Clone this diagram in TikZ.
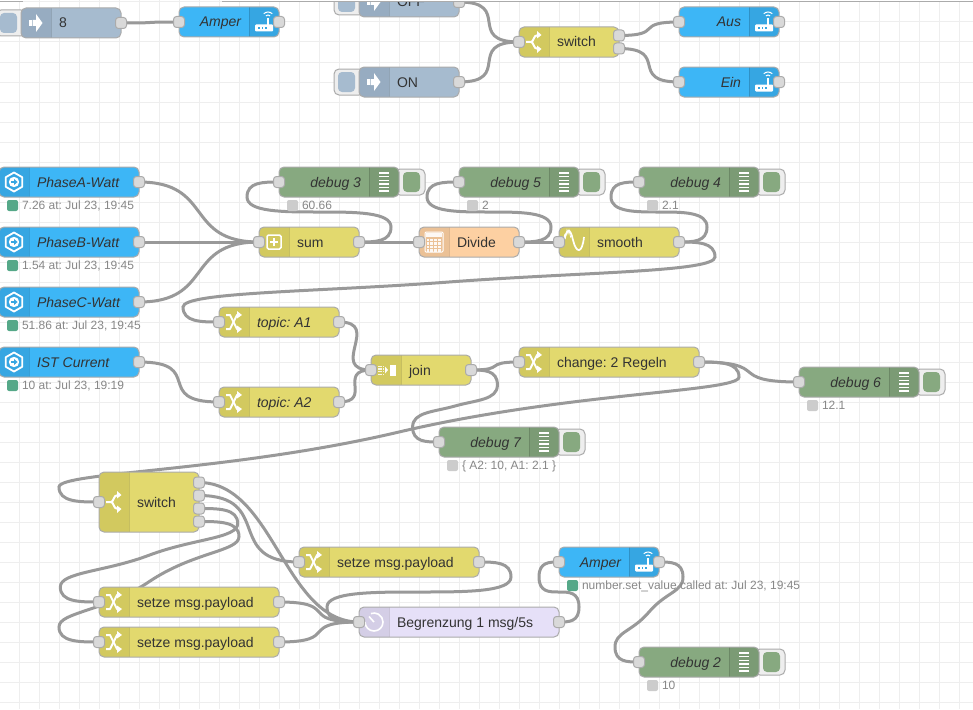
\documentclass[tikz,border=0pt]{standalone}
\usepackage{fontspec}
\setmainfont{Liberation Sans}
\frenchspacing
\pgfdeclarelayer{gridlayer}
\pgfdeclarelayer{wirelayer}
\pgfsetlayers{gridlayer,wirelayer,main}
\definecolor{cblue}{HTML}{3DB6F6}\definecolor{bblue}{HTML}{36A6E2}
\definecolor{cinj}{HTML}{A6BBCF}\definecolor{binj}{HTML}{97ACC1}
\definecolor{cyel}{HTML}{E2D96E}\definecolor{byel}{HTML}{D2C95F}
\definecolor{cdbg}{HTML}{87A980}\definecolor{bdbg}{HTML}{7B9B75}
\definecolor{clav}{HTML}{E6E0F8}\definecolor{blav}{HTML}{D4CEE6}
\definecolor{cora}{HTML}{FDD0A2}\definecolor{bora}{HTML}{EBC196}
\definecolor{wirecol}{HTML}{999999}
\definecolor{edgecol}{HTML}{ABABAB}
\definecolor{gridcol}{HTML}{EEEEEE}
\definecolor{txtcol}{HTML}{333333}
\definecolor{stattxt}{HTML}{888888}
\definecolor{statgreen}{HTML}{55A888}
\definecolor{statgray}{HTML}{CCCCCC}
\definecolor{portcol}{HTML}{D9D9D9}
\tikzset{
  nrbody/.style={draw=none,rounded corners=5pt,inner sep=0pt,outer sep=0pt,line width=1pt},
  nredge/.style={draw=edgecol,rounded corners=5pt,line width=1pt},
  nrsep/.style={draw=black,draw opacity=.12,line width=1pt},
  nrport/.style={draw=edgecol,fill=portcol,rounded corners=3pt,minimum size=11pt,inner sep=0pt,outer sep=0pt,line width=1pt},
  nrlabel/.style={inner sep=0pt,outer sep=0pt,text=txtcol,font=\fontsize{14}{14}\selectfont},
  nrital/.style={nrlabel,font=\fontsize{14}{14}\selectfont\itshape},
  wirepath/.style={draw=wirecol,line width=3pt},
  btnouter/.style={draw=edgecol,fill=gridcol,rounded corners=5pt,inner sep=0pt,outer sep=0pt,line width=1pt,minimum height=26pt},
  btninner/.style={rounded corners=4pt,inner sep=0pt,outer sep=0pt,minimum width=17pt,minimum height=20pt},
  statdot/.style={rounded corners=2pt,minimum size=11pt,inner sep=0pt,outer sep=0pt},
  stattext/.style={inner sep=0pt,outer sep=0pt,text=stattxt,font=\fontsize{12}{12}\selectfont},
  icn/.style={draw=white,line width=2pt},
}
\newdimen\wtmp
\newcommand\getport[3]{%
  \pgfextractx{\wtmp}{\pgfpointanchor{#1}{center}}\pgfmathsetmacro#2{\wtmp}%
  \pgfextracty{\wtmp}{\pgfpointanchor{#1}{center}}\pgfmathsetmacro#3{-\wtmp}%
}
% Node-RED link geometry
\newcommand\wire[2]{%
  \getport{#1}{\ox}{\oy}\getport{#2}{\ex}{\ey}%
  \pgfmathsetmacro\ddx{\ex-\ox}\pgfmathsetmacro\ddy{\ey-\oy}%
  \ifdim\ddx pt>0.5pt
    \pgfmathsetmacro\del{veclen(\ddx/10,\ddy/10)*10}%
    \pgfmathsetmacro\sca{\del<100?0.75*\del/100:0.75}%
    \pgfmathsetmacro\caX{\ox+100*\sca}\pgfmathsetmacro\cbX{\ex-100*\sca}%
    \draw[wirepath] (#1.center) .. controls (\caX,\oy) and (\cbX,\ey) .. (#2.center);%
  \else
    \pgfmathsetmacro\sca{0.4-0.2*max(0,(100-min(abs(\ddx),abs(\ddy)))/100)}%
    \pgfmathsetmacro\midX{\ex-\ddx/2}\pgfmathsetmacro\midY{\ey-\ddy/2}%
    \pgfmathsetmacro\yone{(\ey+\midY)/2}%
    \pgfmathsetmacro\topX{\ox+100*\sca}\pgfmathsetmacro\botX{\ex-100*\sca}%
    \ifdim\ddy pt>0pt
      \pgfmathsetmacro\topY{min(\yone-\ddy/2,\oy+15)}%
      \pgfmathsetmacro\botY{max(\yone,\ey-15)}%
      \pgfmathsetmacro\cbY{max(\oy,\topY-15)}%
      \pgfmathsetmacro\ccY{min(\midY,\topY+15)}%
      \pgfmathsetmacro\cdY{max(\midY,\botY-15)}%
    \else
      \pgfmathsetmacro\topY{max(\yone-\ddy/2,\oy-15)}%
      \pgfmathsetmacro\botY{min(\yone,\ey+15)}%
      \pgfmathsetmacro\cbY{min(\oy,\topY+15)}%
      \pgfmathsetmacro\ccY{max(\midY,\topY-15)}%
      \pgfmathsetmacro\cdY{min(\midY,\botY+15)}%
    \fi
    \pgfmathsetmacro\xa{(\ox+\topX)/2}%
    \pgfmathsetmacro\mbY{2*\topY-\cbY}%
    \pgfmathsetmacro\ccX{(\topX+\midX)/2}%
    \pgfmathsetmacro\mcX{2*\midX-\ccX}\pgfmathsetmacro\mcY{2*\midY-\ccY}%
    \pgfmathsetmacro\mdY{2*\botY-\cdY}%
    \pgfmathsetmacro\ceX{(\ex+\botX)/2}%
    \draw[wirepath] (#1.center) .. controls (\xa,\oy) and (\topX,\cbY) .. (\topX,\topY)
      .. controls (\topX,\mbY) and (\ccX,\ccY) .. (\midX,\midY)
      .. controls (\mcX,\mcY) and (\botX,\cdY) .. (\botX,\botY)
      .. controls (\botX,\mdY) and (\ceX,\ey) .. (#2.center);%
  \fi
}
% left band node: id x y w h type
\newcommand\nrl[6]{%
  \node[nrbody,fill=c#6,minimum width=#4pt,minimum height=#5pt,anchor=north west] (#1) at (#2,#3) {};
  \begin{scope}
    \clip[rounded corners=5pt] (#1.north west) rectangle (#1.south east);
    \fill[b#6] (#2,#3) rectangle ++(30,#5);
  \end{scope}
  \draw[nrsep] ({#2+30},#3) -- ++(0,#5);
  \draw[nredge] (#1.north west) rectangle (#1.south east);
}
% right band node
\newcommand\nrr[6]{%
  \node[nrbody,fill=c#6,minimum width=#4pt,minimum height=#5pt,anchor=north west] (#1) at (#2,#3) {};
  \begin{scope}
    \clip[rounded corners=5pt] (#1.north west) rectangle (#1.south east);
    \fill[b#6] ({#2+#4-30},#3) rectangle ++(30,#5);
  \end{scope}
  \draw[nrsep] ({#2+#4-30},#3) -- ++(0,#5);
  \draw[nredge] (#1.north west) rectangle (#1.south east);
}
\newcommand\lbl[5][nrlabel]{\node[#1,anchor=base west] (#2) at (#3,{#4+5}) {#5};}
\newcommand\lblr[5][nrital]{\node[#1,anchor=base east] (#2) at (#3,{#4+5}) {#5};}
\newcommand\port[3]{\node[nrport] (#1) at (#2,#3) {};}
\newcommand\btnr[3]{%
  \node[btnouter,minimum width=30pt,anchor=east] (#1-bo) at ({#2+26},#3) {};
  \node[btninner,fill=cdbg,anchor=west] (#1-bi) at ({#2+4},#3) {};}
\newcommand\btnl[3]{%
  \node[btnouter,minimum width=30pt,anchor=west] (#1-bo) at ({#2-25},#3) {};
  \node[btninner,fill=cinj,anchor=east] (#1-bi) at ({#2-4},#3) {};}
\newcommand\stat[5]{%
  \node[statdot,fill=#4] (#1-d) at ({#2+5.5},#3) {};
  \node[stattext,anchor=base west] (#1-s) at ({#2+15},{#3+4}) {#5};}
% icons
\newcommand\icinj[2]{\begin{scope}[shift={(#1,#2)}]
  \fill[white] (-7,-3) rectangle (-4.5,3);
  \fill[white] (-3.5,-3) -- (0,-3) -- (0,-9) -- (6.5,0) -- (0,9) -- (0,3) -- (-3.5,3) -- cycle;
\end{scope}}
\newcommand\ichex[2]{\begin{scope}[shift={(#1,#2)}]
  \draw[white,line width=1.8pt,line join=round] (0,-9.5) -- (8.2,-4.8) -- (8.2,4.8) -- (0,9.5) -- (-8.2,4.8) -- (-8.2,-4.8) -- cycle;
  \fill[white] (0,0) circle[radius=5.2];
  \draw[bblue,line width=1.4pt] (-3,0) -- (1,0);
  \fill[bblue] (0,-3) -- (3.6,0) -- (0,3) -- cycle;
\end{scope}}
\newcommand\icrouter[2]{\begin{scope}[shift={(#1,#2)}]
  \fill[white,rounded corners=1pt] (-9.5,2.5) rectangle (8.5,9.5);
  \draw[white,line width=1.3pt] (3.5,-4) -- (3.5,3);
  \draw[white,line width=1pt] (3.5,-4) ++(225:3) arc[start angle=225,end angle=315,radius=3];
  \draw[white,line width=1pt] (3.5,-4) ++(225:6) arc[start angle=225,end angle=315,radius=6];
  \foreach \q in {-6.5,-3,0.5}{\fill[bblue] (\q,5) rectangle ++(1.6,1.6);}
\end{scope}}
\newcommand\icshuf[2]{\begin{scope}[shift={(#1,#2)}]
  \draw[icn,line join=round] (-8,-7) -- (-4,-7) -- (3,7) -- (4,7);
  \draw[icn,line join=round] (-8,7) -- (-4,7) -- (3,-7) -- (4,-7);
  \fill[white] (3,-11) -- (8,-7) -- (3,-3.5) -- cycle;
  \fill[white] (3,11) -- (8,7) -- (3,3.5) -- cycle;
\end{scope}}
\newcommand\icswitch[2]{\begin{scope}[shift={(#1,#2)}]
  \draw[icn] (-8,0) -- (-3,0) .. controls (0,0) and (-1,-7) .. (4,-7);
  \draw[icn] (-3,0) .. controls (0,0) and (-1,7) .. (4,7);
  \fill[white] (3,-11) -- (7.5,-7) -- (3,-3.5) -- cycle;
  \fill[white] (3,11) -- (7.5,7) -- (3,3.5) -- cycle;
\end{scope}}
\newcommand\icsum[2]{\begin{scope}[shift={(#1,#2)}]
  \draw[white,line width=1.5pt,rounded corners=1.5pt] (-7,-7) rectangle (7,7);
  \draw[white,line width=1.5pt] (-4,0) -- (4,0) (0,-4) -- (0,4);
\end{scope}}
\newcommand\iccalc[2]{\begin{scope}[shift={(#1,#2)}]
  \draw[white,line width=1pt,rounded corners=1pt] (-9,-10) rectangle (9,10);
  \fill[white,opacity=.9] (-8,-9) rectangle (8,-5);
  \foreach \r in {-3.5,0,3.5,7}{\foreach \c in {-7.5,-3.7,0.1,3.9}{\fill[white,opacity=.9] (\c,\r) rectangle ++(2.8,2.5);}}
\end{scope}}
\newcommand\icwave[2]{\begin{scope}[shift={(#1,#2)}]
  \draw[white,line width=1.7pt] (-11,2) .. controls (-7,-15) and (-4,-15) .. (-1,-2) .. controls (2,11) and (8,13) .. (10,-5);
  \draw[white,line width=.7pt] (-11,0) -- (-9.5,-7) -- (-8.5,-4) -- (-7,-12) -- (-6,-8) -- (-5,-12) -- (-3.5,-5) -- (-2,-7);
\end{scope}}
\newcommand\icjoin[2]{\begin{scope}[shift={(#1,#2)}]
  \foreach \c in {-8,-5.6,-3.2}{\foreach \r in {-4.5,-1.8,0.9,3.6}{\fill[white,opacity=.85] (\c,\r) rectangle ++(1.5,1.5);}}
  \fill[white] (-1,-3.5) -- (2,0) -- (-1,3.5) -- cycle;
  \fill[white] (4,-5.5) rectangle (10,5.5);
\end{scope}}
\newcommand\icclock[2]{\begin{scope}[shift={(#1,#2)}]
  \draw[white,line width=1.6pt] (-9,0) arc[start angle=180,end angle=-110,radius=9];
  \draw[white,line width=1.6pt] (0,0) -- (-5,-5.5);
\end{scope}}
\newcommand\icdbg[2]{\begin{scope}[shift={(#1,#2)}]
  \foreach \r in {-9,-5.4,-1.8,1.8,5.4,9}{\draw[white,line width=1.4pt] (-5,\r) -- (5,\r);}
\end{scope}}
\begin{document}
\begin{tikzpicture}[x=1pt,y=-1pt]
\useasboundingbox (0,0) rectangle (973,709);
\begin{pgfonlayer}{gridlayer}
  \fill[white] (0,0) rectangle (973,709);
  \foreach \q in {0,...,48}{\draw[gridcol,line width=1pt] ({19.5+20*\q},0) -- ({19.5+20*\q},709);}
  \foreach \q in {0,...,35}{\draw[gridcol,line width=1pt] (0,{2+20*\q}) -- (973,{2+20*\q});}
\end{pgfonlayer}

% --- top row
\btnl{inj8}{21}{23}
\nrl{inj8}{21}{8}{100}{30}{inj}
\icinj{36}{23}
\lbl{inj8-t}{59}{23}{8}
\port{inj8-o}{121}{23}

\nrr{amp1}{179}{7}{100}{30}{blue}
\icrouter{264.5}{22}
\lblr{amp1-t}{241}{22}{Amper}
\port{amp1-i}{179}{22}\port{amp1-o}{279}{22}

\btnl{off}{359}{2}
\nrl{off}{359}{-13}{100}{30}{inj}
\icinj{374}{2}
\lbl{off-t}{397}{2}{OFF}
\port{off-o}{459}{2}

\btnl{on}{359}{82}
\nrl{on}{359}{67}{100}{30}{inj}
\icinj{374}{82}
\lbl{on-t}{397}{82}{ON}
\port{on-o}{459}{82}

\nrl{sw1}{519}{27}{100}{30}{yel}
\icswitch{534}{42}
\lbl{sw1-t}{557}{42}{switch}
\port{sw1-i}{519}{42}\port{sw1-o1}{619}{35.5}\port{sw1-o2}{619}{48.5}

\nrr{aus}{679}{7}{100}{30}{blue}
\icrouter{764.5}{22}
\lblr{aus-t}{741}{22}{Aus}
\port{aus-i}{679}{22}\port{aus-o}{779}{22}

\nrr{ein}{679}{67}{100}{30}{blue}
\icrouter{764.5}{82}
\lblr{ein-t}{741}{82}{Ein}
\port{ein-i}{679}{82}\port{ein-o}{779}{82}

% --- sources
\nrl{pa}{-1}{167}{140}{30}{blue}\ichex{14}{182}
\lbl[nrital]{pa-t}{37}{182}{PhaseA-Watt}\port{pa-o}{139}{182}
\stat{pa}{7}{205.5}{statgreen}{7.26 at: Jul 23, 19:45}
\nrl{pb}{-1}{227}{140}{30}{blue}\ichex{14}{242}
\lbl[nrital]{pb-t}{37}{242}{PhaseB-Watt}\port{pb-o}{139}{242}
\stat{pb}{7}{265.5}{statgreen}{1.54 at: Jul 23, 19:45}
\nrl{pc}{-1}{287}{140}{30}{blue}\ichex{14}{302}
\lbl[nrital]{pc-t}{37}{302}{PhaseC-Watt}\port{pc-o}{139}{302}
\stat{pc}{7}{325.5}{statgreen}{51.86 at: Jul 23, 19:45}
\nrl{ist}{-1}{347}{140}{30}{blue}\ichex{14}{362}
\lbl[nrital]{ist-t}{37}{362}{IST Current}\port{ist-o}{139}{362}
\stat{ist}{7}{385.5}{statgreen}{10 at: Jul 23, 19:19}

% --- debug row
\btnr{d3}{399}{182}
\nrr{d3}{279}{167}{120}{30}{dbg}\icdbg{384}{182}
\lblr{d3-t}{361}{182}{debug 3}\port{d3-i}{279}{182}
\stat{d3}{287}{205.5}{statgray}{60.66}
\btnr{d5}{579}{182}
\nrr{d5}{459}{167}{120}{30}{dbg}\icdbg{564}{182}
\lblr{d5-t}{541}{182}{debug 5}\port{d5-i}{459}{182}
\stat{d5}{467}{205.5}{statgray}{2}
\btnr{d4}{759}{182}
\nrr{d4}{639}{167}{120}{30}{dbg}\icdbg{744}{182}
\lblr{d4-t}{721}{182}{debug 4}\port{d4-i}{639}{182}
\stat{d4}{647}{205.5}{statgray}{2.1}

\nrl{sum}{259}{227}{100}{30}{yel}\icsum{274}{242}
\lbl{sum-t}{297}{242}{sum}\port{sum-i}{259}{242}\port{sum-o}{359}{242}
\nrl{div}{419}{227}{100}{30}{ora}\iccalc{434}{242}
\lbl{div-t}{457}{242}{Divide}\port{div-i}{419}{242}\port{div-o}{519}{242}
\nrl{smo}{559}{227}{120}{30}{yel}\icwave{574}{242}
\lbl{smo-t}{597}{242}{smooth}\port{smo-i}{559}{242}\port{smo-o}{679}{242}

\nrl{ta1}{219}{307}{120}{30}{yel}\icshuf{234}{322}
\lbl[nrital]{ta1-t}{257}{322}{topic: A1}\port{ta1-i}{219}{322}\port{ta1-o}{339}{322}
\nrl{ta2}{219}{387}{120}{30}{yel}\icshuf{234}{402}
\lbl[nrital]{ta2-t}{257}{402}{topic: A2}\port{ta2-i}{219}{402}\port{ta2-o}{339}{402}

\nrl{join}{371}{355}{100}{30}{yel}\icjoin{386}{370}
\lbl{join-t}{409}{370}{join}\port{join-i}{371}{370}\port{join-o}{471}{370}

\nrl{chg}{519}{347}{180}{30}{yel}\icshuf{534}{362}
\lbl{chg-t}{557}{362}{change: 2 Regeln}\port{chg-i}{519}{362}\port{chg-o}{699}{362}

\btnr{d6}{919}{382}
\nrr{d6}{799}{367}{120}{30}{dbg}\icdbg{904}{382}
\lblr{d6-t}{881}{382}{debug 6}\port{d6-i}{799}{382}
\stat{d6}{807}{405.5}{statgray}{12.1}
\btnr{d7}{559}{442}
\nrr{d7}{439}{427}{120}{30}{dbg}\icdbg{544}{442}
\lblr{d7-t}{521}{442}{debug 7}\port{d7-i}{439}{442}
\stat{d7}{447}{465.5}{statgray}{\{ A2: 10, A1: 2.1 \}}

% --- lower section
\nrl{sw2}{99}{472}{100}{60}{yel}\icswitch{114}{502}
\lbl{sw2-t}{137}{502}{switch}\port{sw2-i}{99}{502}
\port{sw2-o1}{199}{482.5}\port{sw2-o2}{199}{495.5}\port{sw2-o3}{199}{508.5}\port{sw2-o4}{199}{521.5}

\nrl{se1}{299}{547}{180}{30}{yel}\icshuf{314}{562}
\lbl{se1-t}{337}{562}{setze msg.payload}\port{se1-i}{299}{562}\port{se1-o}{479}{562}
\nrl{se2}{99}{587}{180}{30}{yel}\icshuf{114}{602}
\lbl{se2-t}{137}{602}{setze msg.payload}\port{se2-i}{99}{602}\port{se2-o}{279}{602}
\nrl{se3}{99}{627}{180}{30}{yel}\icshuf{114}{642}
\lbl{se3-t}{137}{642}{setze msg.payload}\port{se3-i}{99}{642}\port{se3-o}{279}{642}

\nrl{del}{359}{607}{200}{30}{lav}\icclock{374}{622}
\lbl{del-t}{397}{622}{Begrenzung 1 msg/5s}\port{del-i}{359}{622}\port{del-o}{559}{622}

\nrr{amp2}{559}{547}{100}{30}{blue}\icrouter{644.5}{562}
\lblr{amp2-t}{621}{562}{Amper}\port{amp2-i}{559}{562}\port{amp2-o}{659}{562}
\stat{amp2}{567}{585.5}{statgreen}{number.set\_value called at: Jul 23, 19:45}

\btnr{d2}{759}{662}
\nrr{d2}{639}{647}{120}{30}{dbg}\icdbg{744}{662}
\lblr{d2-t}{721}{662}{debug 2}\port{d2-i}{639}{662}
\stat{d2}{647}{685.5}{statgray}{10}

% --- top strip of the canvas
\fill[white] (0,0) rectangle (23,1);
\fill[white] (222,0) rectangle (973,1.2);
\draw[edgecol,line width=1pt] (0,1.5) -- (23,1.5);
\draw[edgecol,line width=1pt] (222,1.5) -- (973,1.5);

% --- wires
\begin{pgfonlayer}{wirelayer}
\wire{inj8-o}{amp1-i}
\wire{off-o}{sw1-i}
\wire{on-o}{sw1-i}
\wire{sw1-o1}{aus-i}
\wire{sw1-o2}{ein-i}
\wire{pa-o}{sum-i}
\wire{pb-o}{sum-i}
\wire{pc-o}{sum-i}
\wire{sum-o}{d3-i}
\wire{sum-o}{div-i}
\wire{div-o}{d5-i}
\wire{div-o}{smo-i}
\wire{smo-o}{d4-i}
\wire{smo-o}{ta1-i}
\wire{ist-o}{ta2-i}
\wire{ta1-o}{join-i}
\wire{ta2-o}{join-i}
\wire{join-o}{chg-i}
\wire{join-o}{d7-i}
\wire{chg-o}{d6-i}
\wire{chg-o}{sw2-i}
\wire{sw2-o1}{del-i}
\wire{sw2-o2}{se1-i}
\wire{sw2-o3}{se2-i}
\wire{sw2-o4}{se3-i}
\wire{se1-o}{del-i}
\wire{se2-o}{del-i}
\wire{se3-o}{del-i}
\wire{del-o}{amp2-i}
\wire{amp2-o}{d2-i}
\end{pgfonlayer}
\end{tikzpicture}
\end{document}
